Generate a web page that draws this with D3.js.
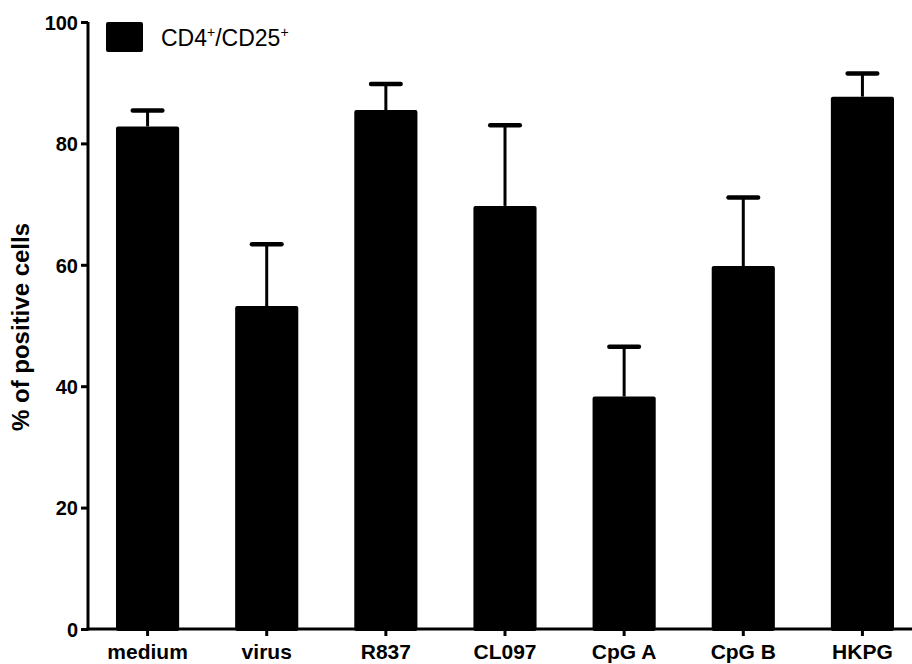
<!DOCTYPE html>
<html>
<head>
<meta charset="utf-8">
<script src="https://cdn.jsdelivr.net/npm/d3@7"></script>
<style>
body { margin: 0; background: #fff; }
text { font-family: "Liberation Sans", Arial, sans-serif; }
</style>
</head>
<body>
<div id="chart"></div>
<script>
var categories = ['medium', 'virus', 'R837', 'CL097', 'CpG A', 'CpG B', 'HKPG'];
var means = [82.8, 53.2, 85.5, 69.7, 38.3, 59.8, 87.7];
var errTops = [85.4, 63.4, 89.8, 83.0, 46.5, 71.1, 91.5];
var yTicks = [0, 20, 40, 60, 80, 100];

var width = 912, height = 664;

var svg = d3.select('#chart').append('svg')
	.attr('width', width)
	.attr('height', height);

var x = d3.scaleBand()
	.domain(categories)
	.range([88, 922])
	.paddingInner(0.47)
	.paddingOuter(0.235);

var y = d3.scaleLinear()
	.domain([0, 100])
	.range([629, 22]);

var data = categories.map(function(c, i) { return {name: c, mean: means[i], top: errTops[i]}; });

// error bars (drawn first, bar covers bottom)
var eb = svg.append('g').attr('class', 'errors');
eb.selectAll('line.stem')
	.data(data)
	.enter()
	.append('line')
	.attr('x1', function(d) { return x(d.name) + x.bandwidth() / 2 })
	.attr('x2', function(d) { return x(d.name) + x.bandwidth() / 2 })
	.attr('y1', function(d) { return y(d.mean) })
	.attr('y2', function(d) { return y(d.top) })
	.style('stroke', '#000')
	.style('stroke-width', 3);

eb.selectAll('line.cap')
	.data(data)
	.enter()
	.append('line')
	.attr('x1', function(d) { return x(d.name) + x.bandwidth() / 4 + 1 })
	.attr('x2', function(d) { return x(d.name) + x.bandwidth() * 3 / 4 - 1 })
	.attr('y1', function(d) { return y(d.top) })
	.attr('y2', function(d) { return y(d.top) })
	.style('stroke', '#000')
	.style('stroke-width', 4.5)
	.style('stroke-linecap', 'round');

svg.append('g').attr('class', 'bars')
	.selectAll('rect')
	.data(data)
	.enter()
	.append('rect')
	.attr('x', function(d) { return x(d.name) })
	.attr('width', x.bandwidth())
	.attr('y', function(d) { return y(d.mean) })
	.attr('height', function(d) { return y(0) - y(d.mean) + 2 })
	.attr('rx', 2)
	.attr('fill', '#000');

// y axis
var yAxis = svg.append('g')
	.attr('transform', 'translate(88,0)')
	.call(d3.axisLeft(y).tickValues(yTicks).tickSize(7).tickPadding(3));
yAxis.select('.domain').attr('d', 'M0,' + y(100) + 'V' + (y(0) + 1.5)).style('stroke-width', 3);
yAxis.selectAll('.tick line').style('stroke-width', 3);
yAxis.selectAll('.tick text')
	.style('font-size', '20px')
	.style('font-weight', 'bold')
	.attr('dy', '0.36em');

// x axis
var xAxis = svg.append('g')
	.attr('transform', 'translate(0,' + y(0) + ')')
	.call(d3.axisBottom(x).tickSize(7).tickPadding(8));
xAxis.select('.domain').attr('d', 'M86.5,0H912').style('stroke-width', 3);
xAxis.selectAll('.tick line').style('stroke-width', 3);
xAxis.selectAll('.tick text')
	.style('font-size', '21px')
	.style('font-weight', 'bold');

svg.append('text')
	.attr('transform', 'translate(29,327) rotate(-90)')
	.attr('text-anchor', 'middle')
	.style('font-size', '24px')
	.style('font-weight', 'bold')
	.text('% of positive cells');

// legend
svg.append('rect')
	.attr('x', 106).attr('y', 22)
	.attr('width', 37).attr('height', 30)
	.attr('rx', 2)
	.attr('fill', '#000');

var lt = svg.append('text')
	.attr('x', 161).attr('y', 46)
	.style('font-size', '23px');
lt.append('tspan').text('CD4');
lt.append('tspan').attr('dy', -9).style('font-size', '14px').text('+');
lt.append('tspan').attr('dy', 9).text('/CD25');
lt.append('tspan').attr('dy', -9).style('font-size', '14px').text('+');
</script>
</body>
</html>
